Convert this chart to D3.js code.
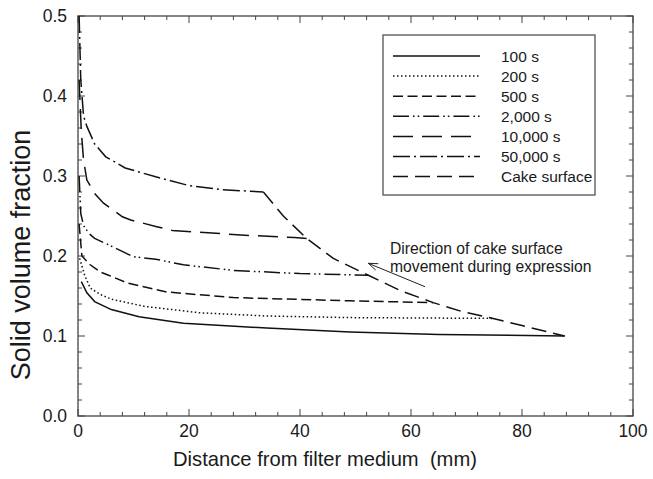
<!DOCTYPE html>
<html><head><meta charset="utf-8">
<script src="https://cdn.jsdelivr.net/npm/d3@7"></script>
<style>body{margin:0;background:#fff}svg{display:block}text{font-family:"Liberation Sans",Arial,sans-serif;fill:#1a1a1a}</style>
</head><body><svg id="c" width="653" height="479"></svg>
<script>
// Data (distance mm, solid volume fraction)
const s100 = [[0.6,0.168],[1.6,0.154],[3,0.143],[6,0.133],[11,0.124],[19,0.116],[34,0.110],[49,0.105],[65,0.102],[87.7,0.100]];
const s200 = [[0.3,0.197],[1.2,0.176],[2.2,0.160],[4,0.152],[6,0.146],[12,0.137],[22,0.129],[34,0.125],[49,0.123],[74.8,0.122]];
const s500 = [[0.2,0.24],[0.7,0.200],[2.2,0.189],[4,0.180],[5.5,0.176],[9,0.166],[16,0.155],[28,0.148],[49,0.144],[64,0.1417]];
const s2000 = [[0.2,0.30],[0.5,0.253],[1,0.238],[2,0.228],[3,0.222],[5.5,0.214],[10,0.199],[14,0.196],[19,0.189],[28,0.182],[40,0.178],[52.3,0.176]];
const s10000 = [[0.2,0.42],[0.6,0.355],[1,0.32],[1.6,0.295],[3,0.278],[4.6,0.266],[6,0.259],[8,0.249],[9.5,0.245],[14,0.237],[17,0.232],[30,0.226],[39,0.223],[41.2,0.222]];
const s50000 = [[0.2,0.50],[0.5,0.42],[1,0.375],[1.6,0.362],[3,0.340],[5,0.324],[8.5,0.310],[14,0.299],[20,0.288],[26,0.283],[33.4,0.280]];
const cake = [[33.4,0.280],[37,0.250],[41.2,0.222],[46,0.197],[52.3,0.176],[58,0.157],[64,0.1417],[69,0.131],[74.8,0.122],[80,0.113],[87.7,0.100]];
const seriesNames = ["100 s","200 s","500 s","2,000 s","10,000 s","50,000 s","Cake surface"];
const xTicks = [0,20,40,60,80,100];
const yTicks = [0.0,0.1,0.2,0.3,0.4,0.5];

const dashes = ["", "1.5,2.5", "10,4.5", "16,4,1.6,3,1.6,4", "20,9", "17,4,2,4", "15,7"];
const data = [s100,s200,s500,s2000,s10000,s50000,cake];

const svg = d3.select("#c");
const L=78,R=633,T=16,B=416;
const x = d3.scaleLinear().domain([0,100]).range([L,R]);
const y = d3.scaleLinear().domain([0,0.5]).range([B,T]);
const g = svg.append("g");
const frameCol="#444";

const xMinor = d3.range(0,100.01,4), yMinor = d3.range(0,0.5001,0.02);
const isMajX = v=>xTicks.some(t=>Math.abs(t-v)<1e-6);
const isMajY = v=>yTicks.some(t=>Math.abs(t-v)<1e-6);
const xAll = Array.from(new Set(xMinor.concat(xTicks))).sort((a,b)=>a-b);
xAll.forEach(v=>{const len=isMajX(v)?7:4;
  g.append("line").attr("x1",x(v)).attr("x2",x(v)).attr("y1",B).attr("y2",B-len).attr("stroke",frameCol).attr("stroke-width",1);
  g.append("line").attr("x1",x(v)).attr("x2",x(v)).attr("y1",T).attr("y2",T+len).attr("stroke",frameCol).attr("stroke-width",1);
});
yMinor.forEach(v=>{const len=isMajY(v)?7:4;
  g.append("line").attr("y1",y(v)).attr("y2",y(v)).attr("x1",L).attr("x2",L+len).attr("stroke",frameCol).attr("stroke-width",1);
  g.append("line").attr("y1",y(v)).attr("y2",y(v)).attr("x1",R).attr("x2",R-len).attr("stroke",frameCol).attr("stroke-width",1);
});
g.append("rect").attr("x",L).attr("y",T).attr("width",R-L).attr("height",B-T).attr("fill","none").attr("stroke",frameCol).attr("stroke-width",1.3);

// tick labels
xTicks.forEach(v=>g.append("text").attr("x",x(v)).attr("y",B+21).attr("text-anchor","middle").attr("font-size",17.5).text(d3.format("d")(v)));
yTicks.forEach(v=>g.append("text").attr("x",67).attr("y",y(v)+6.3).attr("text-anchor","end").attr("font-size",17.5).text(d3.format(".1f")(v)));

// axis titles
g.append("text").attr("x",325).attr("y",466).attr("text-anchor","middle").attr("font-size",20.2).text("Distance from filter medium\u00a0 (mm)");
g.append("text").attr("transform","translate(30,255) rotate(-90)").attr("text-anchor","middle").attr("font-size",27).text("Solid volume fraction");

// curves
const line = d3.line().x(d=>x(d[0])).y(d=>y(d[1]));
data.forEach((d,i)=>{
  g.append("path").attr("d",line(d)).attr("fill","none").attr("stroke","#111").attr("stroke-width",1.5)
   .attr("stroke-dasharray",dashes[i]||null);
});

// legend
const lg = g.append("g");
lg.append("rect").attr("x",383).attr("y",35).attr("width",212).attr("height",160).attr("fill","#fff").attr("stroke",frameCol).attr("stroke-width",1.2);
seriesNames.forEach((n,i)=>{
  const yy = 56 + i*20.1;
  lg.append("line").attr("x1",393).attr("x2",480).attr("y1",yy).attr("y2",yy).attr("stroke","#111").attr("stroke-width",1.5).attr("stroke-dasharray",dashes[i]||null);
  lg.append("text").attr("x",501).attr("y",yy+5.5).attr("font-size",15.5).text(n);
});

// annotation
g.append("text").attr("x",390).attr("y",254).attr("font-size",15.7).text("Direction of cake surface");
g.append("text").attr("x",390).attr("y",272).attr("font-size",15.7).text("movement during expression");
const ax1=425, ay1=286.7, ax2=368.3, ay2=263.3;
g.append("line").attr("x1",ax1).attr("y1",ay1).attr("x2",ax2).attr("y2",ay2).attr("stroke","#222").attr("stroke-width",1);
const ang=Math.atan2(ay1-ay2,ax1-ax2), hl=10, ha=0.35;
g.append("path").attr("d",`M${ax2+hl*Math.cos(ang-ha)},${ay2+hl*Math.sin(ang-ha)}L${ax2},${ay2}L${ax2+hl*Math.cos(ang+ha)},${ay2+hl*Math.sin(ang+ha)}`)
 .attr("fill","none").attr("stroke","#222").attr("stroke-width",1);
</script></body></html>
